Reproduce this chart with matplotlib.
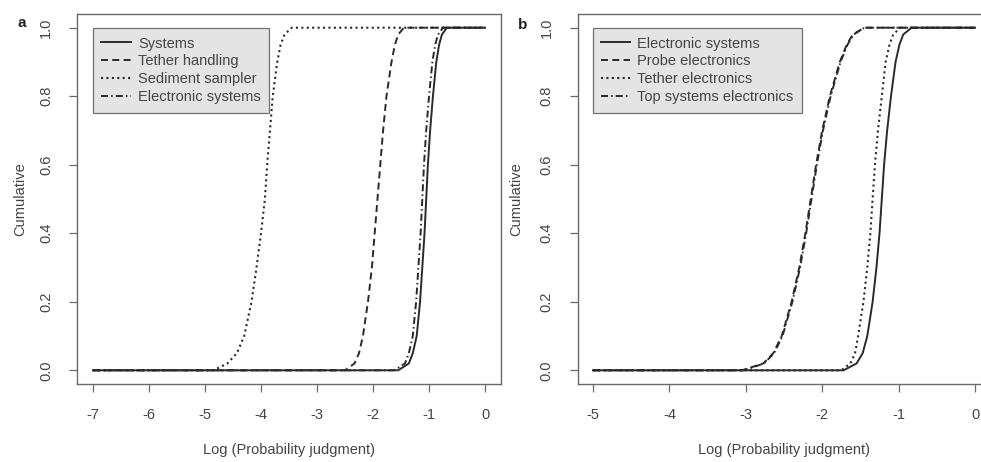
import matplotlib
matplotlib.use("Agg")
import matplotlib.pyplot as plt

plt.rcParams['font.family'] = ['Liberation Sans', 'DejaVu Sans']

# niveles acumulados compartidos por todas las curvas
cum_levels = [0.0, 0.02, 0.05, 0.1, 0.2, 0.3, 0.4, 0.5, 0.6, 0.7, 0.8, 0.9, 0.95, 0.98, 1.0]

a_labels = ["Systems", "Tether handling", "Sediment sampler", "Electronic systems"]
a_systems = [-1.55, -1.36, -1.29, -1.22, -1.16, -1.12, -1.08, -1.05, -1.02, -0.98, -0.93, -0.87, -0.82, -0.77, -0.68]
a_tether = [-2.50, -2.33, -2.25, -2.18, -2.09, -2.02, -1.97, -1.92, -1.87, -1.82, -1.76, -1.67, -1.61, -1.55, -1.45]
a_sediment = [-4.85, -4.60, -4.43, -4.30, -4.17, -4.08, -4.00, -3.93, -3.89, -3.84, -3.79, -3.71, -3.65, -3.58, -3.45]
a_electronic = [-1.62, -1.43, -1.36, -1.29, -1.23, -1.19, -1.15, -1.12, -1.09, -1.05, -1.00, -0.94, -0.89, -0.84, -0.75]
a_range = (-7, 0)
a_ticks = [-7, -6, -5, -4, -3, -2, -1, 0]

# Panel b
b_labels = ["Electronic systems", "Probe electronics", "Tether electronics", "Top systems electronics"]
b_electronic = [-1.72, -1.55, -1.47, -1.41, -1.34, -1.29, -1.25, -1.22, -1.19, -1.15, -1.10, -1.04, -0.99, -0.94, -0.83]
b_probe = [-3.05, -2.77, -2.64, -2.53, -2.40, -2.30, -2.22, -2.15, -2.08, -2.00, -1.90, -1.77, -1.68, -1.60, -1.45]
b_tether = [-1.75, -1.63, -1.57, -1.53, -1.46, -1.41, -1.37, -1.34, -1.31, -1.27, -1.22, -1.17, -1.12, -1.07, -0.98]
b_top = [-3.03, -2.76, -2.63, -2.52, -2.39, -2.29, -2.21, -2.14, -2.07, -1.99, -1.89, -1.76, -1.67, -1.59, -1.45]
b_range = (-5, 0)
b_ticks = [-5, -4, -3, -2, -1, 0]

y_ticks = [0.0, 0.2, 0.4, 0.6, 0.8, 1.0]

# estilos tipo R: lty 1, 2, 3, 4
estilos = [
    dict(linestyle='-', lw=1.4),
    dict(linestyle=(0, (3.6, 2.2)), lw=1.4),
    dict(linestyle=(0, (1.0, 1.6)), lw=1.5),
    dict(linestyle=(0, (3.6, 1.6, 0.8, 1.6)), lw=1.4),
]
color_linea = '#2a2a2a'
color_texto = '#444444'
color_marco = '#6a6a6a'
fs = 10.5

W, H = 981, 462
fig = plt.figure(figsize=(W / 100, H / 100), dpi=100)


def panel(rect, series, labels, xr, ticks, ylab_x, leg_x):
    ax = fig.add_axes(rect)
    for xs, lab, est in zip(series, labels, estilos):
        xx = [xr[0]] + list(xs) + [xr[1]]
        yy = [cum_levels[0]] + list(cum_levels) + [cum_levels[-1]]
        ax.plot(xx, yy, color=color_linea, label=lab, **est)
    pad = 0.04 * (xr[1] - xr[0])
    ax.set_xlim(xr[0] - pad, xr[1] + pad)
    ax.set_ylim(-0.04, 1.04)
    ax.set_xticks(ticks)
    ax.set_xticklabels([str(t) for t in ticks])
    ax.set_yticks(y_ticks)
    ax.set_yticklabels(["%.1f" % v for v in y_ticks], rotation=90, va='center')
    ax.tick_params(axis='both', colors=color_marco, labelcolor=color_texto,
                   labelsize=fs, length=5.5, width=0.9)
    ax.tick_params(axis='x', pad=12)
    ax.tick_params(axis='y', pad=12)
    for s in ax.spines.values():
        s.set_color(color_marco)
        s.set_linewidth(1.0)
    ax.set_xlabel("Log (Probability judgment)", fontsize=fs, color=color_texto)
    ax.xaxis.set_label_coords(0.5, -0.178)
    ax.xaxis.label.set_va('center')
    ax.set_ylabel("Cumulative", fontsize=fs, color=color_texto)
    ax.yaxis.set_label_coords(ylab_x, 0.5)
    ax.yaxis.label.set_va('center')
    leg = ax.legend(loc='upper left', bbox_to_anchor=(leg_x, 0.962), borderaxespad=0,
                    fontsize=fs, fancybox=False, framealpha=1, edgecolor='#707070',
                    facecolor='#e4e4e4', handlelength=2.0, handletextpad=0.5,
                    labelspacing=0.27, borderpad=0.58)
    leg.get_frame().set_linewidth(0.9)
    for t in leg.get_texts():
        t.set_color(color_texto)
    return ax


ax_a = panel([77.3 / W, 78 / H, 423.4 / W, 370 / H],
             [a_systems, a_tether, a_sediment, a_electronic], a_labels,
             a_range, a_ticks, -0.134, 0.037)
ax_b = panel([577.7 / W, 78 / H, 412.6 / W, 370 / H],
             [b_electronic, b_probe, b_tether, b_top], b_labels,
             b_range, b_ticks, -0.148, 0.036)

fig.text(22 / W, 1 - 23 / H, "a", fontsize=11, fontweight='bold', color='#222222',
         ha='center', va='center')
fig.text(523 / W, 1 - 25 / H, "b", fontsize=11, fontweight='bold', color='#222222',
         ha='center', va='center')

fig.savefig("out.png", dpi=100)
